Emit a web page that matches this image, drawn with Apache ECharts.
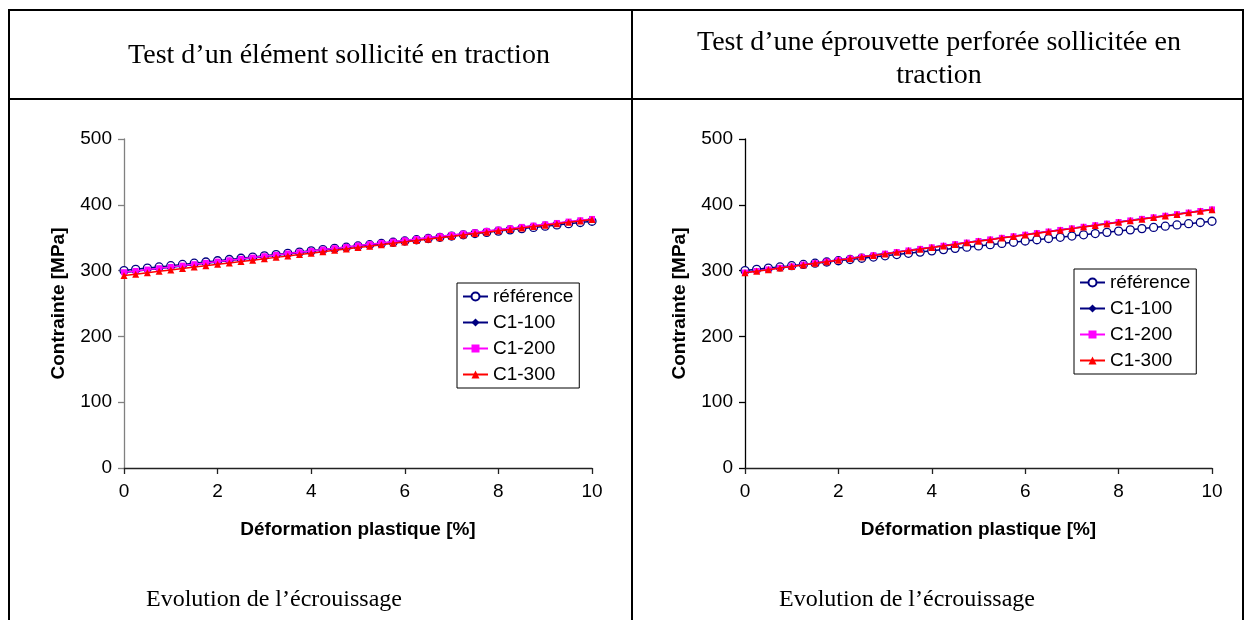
<!DOCTYPE html>
<html><head><meta charset="utf-8">
<script src="https://cdn.jsdelivr.net/npm/echarts@6/dist/echarts.min.js"></script>
<style>html,body{margin:0;padding:0;background:#fff}#c{width:1245px;height:620px}</style>
</head><body><div id="c"></div><script>
// plastic strain [%]
const strain = [0,0.25,0.5,0.75,1,1.25,1.5,1.75,2,2.25,2.5,2.75,3,3.25,3.5,3.75,4,4.25,4.5,4.75,5,5.25,5.5,5.75,6,6.25,6.5,6.75,7,7.25,7.5,7.75,8,8.25,8.5,8.75,9,9.25,9.5,9.75,10];
const seriesNames = ['référence','C1-100','C1-200','C1-300'];
const xTicks = [0,2,4,6,8,10];
const yTicks = [0,100,200,300,400,500];

const refValues = [300.0,301.9,303.8,305.6,307.5,309.4,311.3,313.1,315.0,316.9,318.8,320.6,322.5,324.4,326.3,328.1,330.0,331.9,333.8,335.6,337.5,339.4,341.3,343.1,345.0,346.9,348.8,350.6,352.5,354.4,356.3,358.1,360.0,361.9,363.8,365.6,367.5,369.4,371.3,373.1,375.0];

// left panel: element in traction
const left100 = [297.0,299.0,301.1,303.1,305.1,307.1,309.2,311.2,313.2,315.2,317.3,319.3,321.3,323.3,325.4,327.4,329.4,331.4,333.5,335.5,337.5,339.5,341.6,343.6,345.6,347.6,349.7,351.7,353.7,355.7,357.8,359.8,361.8,363.8,365.9,367.9,369.9,371.9,374.0,376.0,378.0];
const left200 = [297.5,299.5,301.6,303.6,305.6,307.6,309.7,311.7,313.7,315.7,317.8,319.8,321.8,323.8,325.9,327.9,329.9,331.9,334.0,336.0,338.0,340.0,342.1,344.1,346.1,348.1,350.2,352.2,354.2,356.2,358.3,360.3,362.3,364.3,366.4,368.4,370.4,372.4,374.5,376.5,378.5];
const left300 = [292.5,294.6,296.8,298.9,301.0,303.1,305.3,307.4,309.5,311.6,313.8,315.9,318.0,320.1,322.3,324.4,326.5,328.6,330.8,332.9,335.0,337.1,339.3,341.4,343.5,345.6,347.8,349.9,352.0,354.1,356.3,358.4,360.5,362.6,364.8,366.9,369.0,371.1,373.3,375.4,377.5];

// right panel: perforated specimen in traction
const right100 = [297.2,299.6,302.0,304.4,306.8,309.2,311.6,314.0,316.4,318.8,321.2,323.6,326.0,328.4,330.8,333.2,335.6,338.0,340.4,342.8,345.2,347.6,350.0,352.4,354.8,357.2,359.6,362.0,364.4,366.8,369.2,371.6,374.0,376.4,378.8,381.2,383.6,386.0,388.4,390.8,393.2];
const right200 = [297.0,299.4,301.8,304.2,306.6,309.0,311.4,313.8,316.2,318.6,321.0,323.4,325.8,328.2,330.6,333.0,335.4,337.8,340.2,342.6,345.0,347.4,349.8,352.2,354.6,357.0,359.4,361.8,364.2,366.6,369.0,371.4,373.8,376.2,378.6,381.0,383.4,385.8,388.2,390.6,393.0];
const right300 = [296.6,299.0,301.4,303.8,306.2,308.6,311.0,313.4,315.8,318.2,320.6,323.0,325.4,327.8,330.2,332.6,335.0,337.4,339.8,342.2,344.6,347.0,349.4,351.8,354.2,356.6,359.0,361.4,363.8,366.2,368.6,371.0,373.4,375.8,378.2,380.6,383.0,385.4,387.8,390.2,392.6];

const pairs = vals => strain.map((x,i)=>[x, vals[i]]);
const SANS = 'Liberation Sans, Arial, sans-serif';
const SERIF = 'Liberation Serif, Times New Roman, serif';

const styles = [
  {color:'#000080', symbol:'circle', symbolSize:8, itemStyle:{color:'#fff', borderColor:'#000080', borderWidth:1.3}, lineStyle:{color:'#000080', width:1.5}},
  {color:'#000080', symbol:'diamond', symbolSize:6, itemStyle:{color:'#000080'}, lineStyle:{color:'#000080', width:1.5}},
  {color:'#FF00FF', symbol:'rect', symbolSize:6, itemStyle:{color:'#FF00FF'}, lineStyle:{color:'#FF00FF', width:1.5}},
  {color:'#FF0000', symbol:'triangle', symbolSize:7, itemStyle:{color:'#FF0000'}, lineStyle:{color:'#FF0000', width:1.5}}
];

function makeSeries(idx, dataSets){
  return dataSets.map((d,k)=>Object.assign({
    type:'line', name:seriesNames[k], xAxisIndex:idx, yAxisIndex:idx,
    data:pairs(d), showSymbol:true, showAllSymbol:true, z:2+k
  }, JSON.parse(JSON.stringify(styles[k]))));
}

function xAx(idx, col){
  return {type:'value', gridIndex:idx, min:xTicks[0], max:xTicks[xTicks.length-1], interval:2,
    axisLine:{show:true, onZero:false, lineStyle:{color:'#222', width:1.3}},
    axisTick:{show:true, inside:false, length:6, lineStyle:{color:'#222', width:1.3}},
    splitLine:{show:false},
    axisLabel:{fontFamily:SANS, fontSize:19, color:'#000', margin:14},
    name:'Déformation plastique [%]', nameLocation:'middle', nameGap:52,
    nameTextStyle:{fontFamily:SANS, fontSize:19, fontWeight:'bold', color:'#000'}};
}
function yAx(idx, col){
  return {type:'value', gridIndex:idx, min:yTicks[0], max:yTicks[yTicks.length-1], interval:100,
    axisLine:{show:true, lineStyle:{color:col, width:1.3}},
    axisTick:{show:true, inside:false, length:6, lineStyle:{color:col, width:1.3}},
    splitLine:{show:false},
    axisLabel:{fontFamily:SANS, fontSize:19, color:'#000', margin:12},
    name:'Contrainte [MPa]', nameLocation:'middle', nameRotate:90, nameGap:56,
    nameTextStyle:{fontFamily:SANS, fontSize:19, fontWeight:'bold', color:'#000'}};
}

const legendBase = {orient:'vertical', data:seriesNames, itemWidth:25, itemHeight:10, itemGap:7,
  padding:[4,6,4,5], borderColor:'#000', borderWidth:1, backgroundColor:'#fff',
  textStyle:{fontFamily:SANS, fontSize:19, color:'#000'}, selectedMode:false};

const lineStyleBorder = {stroke:'#000', lineWidth:2};
const option = {
  animation:false,
  backgroundColor:'#fff',
  grid:[
    {left:124, top:139, width:468, height:329},
    {left:745, top:139, width:467, height:329}
  ],
  xAxis:[xAx(0), xAx(1)],
  yAxis:[yAx(0,'#808080'), yAx(1,'#000')],
  legend:[
    Object.assign({}, legendBase, {left:457, top:283}),
    Object.assign({}, legendBase, {left:1074, top:269})
  ],
  series:[].concat(
    makeSeries(0,[refValues,left100,left200,left300]),
    makeSeries(1,[refValues,right100,right200,right300])
  ),
  graphic:[
    {type:'line', shape:{x1:9,y1:10,x2:1243,y2:10}, style:lineStyleBorder},
    {type:'line', shape:{x1:9,y1:99,x2:1243,y2:99}, style:lineStyleBorder},
    {type:'line', shape:{x1:9,y1:9,x2:9,y2:620}, style:lineStyleBorder},
    {type:'line', shape:{x1:632,y1:9,x2:632,y2:620}, style:lineStyleBorder},
    {type:'line', shape:{x1:1243,y1:9,x2:1243,y2:620}, style:lineStyleBorder},
    {type:'text', x:339, y:56, style:{text:'Test d’un élément sollicité en traction', font:'28px '+SERIF, fill:'#000', textAlign:'center', textVerticalAlign:'middle'}},
    {type:'text', x:939, y:59, style:{text:'Test d’une éprouvette perforée sollicitée en\ntraction', font:'28px '+SERIF, lineHeight:33, fill:'#000', textAlign:'center', textVerticalAlign:'middle'}},
    {type:'text', x:274, y:600, style:{text:'Evolution de l’écrouissage', font:'24px '+SERIF, fill:'#000', textAlign:'center', textVerticalAlign:'middle'}},
    {type:'text', x:907, y:600, style:{text:'Evolution de l’écrouissage', font:'24px '+SERIF, fill:'#000', textAlign:'center', textVerticalAlign:'middle'}}
  ]
};
const chart = echarts.init(document.getElementById('c'), null, {renderer:'canvas'});
chart.setOption(option);
</script></body></html>
